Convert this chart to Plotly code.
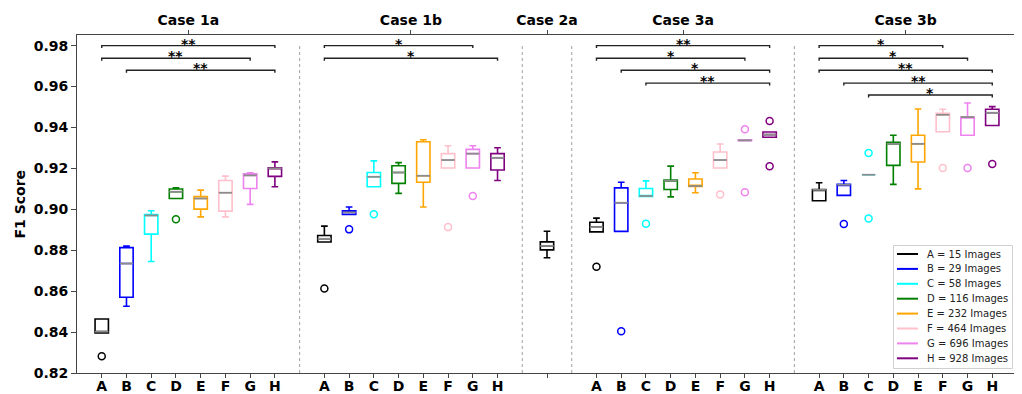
import plotly.graph_objects as go

# ---------------- data ----------------
GROUPS = ["A", "B", "C", "D", "E", "F", "G", "H"]
COLORS = ["#000000", "#0000ff", "#00ffff", "#008000", "#ffa500", "#ffc0cb", "#ee82ee", "#800080"]
LEGEND_LABELS = ["A = 15 Images", "B = 29 Images", "C = 58 Images", "D = 116 Images",
                 "E = 232 Images", "F = 464 Images", "G = 696 Images", "H = 928 Images"]
CASES = ["Case 1a", "Case 1b", "Case 2a", "Case 3a", "Case 3b"]

case1a_lower = [0.8396, 0.8526, 0.8745, 0.9053, 0.8963, 0.8963, 0.9024, 0.9110]
case1a_q1 = [0.8396, 0.8570, 0.8879, 0.9053, 0.9001, 0.8991, 0.9102, 0.9161]
case1a_median = [0.8402, 0.8735, 0.8970, 0.9086, 0.9053, 0.9081, 0.9166, 0.9200]
case1a_q3 = [0.8464, 0.8813, 0.8975, 0.9099, 0.9063, 0.9141, 0.9174, 0.9203]
case1a_upper = [0.8464, 0.8821, 0.8993, 0.9105, 0.9094, 0.9162, 0.9179, 0.9232]
case1a_outliers = [[0.8282], [], [], [0.8951], [], [], [], []]

case1b_lower = [0.8840, 0.8975, 0.9110, 0.9078, 0.9011, 0.9202, 0.9202, 0.9141]
case1b_q1 = [0.8840, 0.8975, 0.9110, 0.9127, 0.9132, 0.9202, 0.9202, 0.9192]
case1b_median = [0.8856, 0.8985, 0.9159, 0.9180, 0.9164, 0.9241, 0.9272, 0.9252]
case1b_q3 = [0.8872, 0.8993, 0.9180, 0.9213, 0.9330, 0.9272, 0.9293, 0.9272]
case1b_upper = [0.8918, 0.9011, 0.9237, 0.9228, 0.9340, 0.9311, 0.9311, 0.9301]
case1b_outliers = [[0.8613], [0.8902], [0.8976], [], [], [0.8913], [0.9065], []]

case2a_lower = [0.8763]
case2a_q1 = [0.8802]
case2a_median = [0.8821]
case2a_q3 = [0.8841]
case2a_upper = [0.8893]
case2a_outliers = [[]]

case3a_lower = [0.8890, 0.8892, 0.9063, 0.9061, 0.9081, 0.9202, 0.9335, 0.9352]
case3a_q1 = [0.8890, 0.8892, 0.9063, 0.9097, 0.9112, 0.9202, 0.9335, 0.9352]
case3a_median = [0.8913, 0.9032, 0.9065, 0.9140, 0.9114, 0.9241, 0.9337, 0.9365]
case3a_q3 = [0.8937, 0.9105, 0.9102, 0.9143, 0.9148, 0.9280, 0.9340, 0.9378]
case3a_upper = [0.8957, 0.9132, 0.9139, 0.9211, 0.9179, 0.9319, 0.9340, 0.9378]
case3a_outliers = [[0.8719], [0.8404], [0.8929], [], [], [0.9073], [0.9391, 0.9083], [0.9432, 0.9211]]

case3b_lower = [0.9042, 0.9068, 0.9169, 0.9122, 0.9100, 0.9379, 0.9362, 0.9410]
case3b_q1 = [0.9042, 0.9068, 0.9169, 0.9215, 0.9231, 0.9379, 0.9362, 0.9410]
case3b_median = [0.9095, 0.9120, 0.9169, 0.9320, 0.9320, 0.9462, 0.9451, 0.9472]
case3b_q3 = [0.9097, 0.9122, 0.9169, 0.9327, 0.9362, 0.9469, 0.9451, 0.9489]
case3b_upper = [0.9130, 0.9141, 0.9169, 0.9362, 0.9490, 0.9489, 0.9520, 0.9502]
case3b_outliers = [[], [0.8928], [0.9275, 0.8955], [], [], [0.9202], [0.9202], [0.9221]]

# significance brackets
sig_case = ["Case 1a", "Case 1a", "Case 1a",
            "Case 1b", "Case 1b",
            "Case 3a", "Case 3a", "Case 3a", "Case 3a",
            "Case 3b", "Case 3b", "Case 3b", "Case 3b", "Case 3b"]
sig_from = ["A", "A", "B", "A", "A", "A", "A", "B", "C", "A", "A", "A", "B", "C"]
sig_to = ["H", "G", "H", "G", "H", "H", "G", "H", "H", "F", "G", "H", "H", "H"]
sig_y = [0.98, 0.9738, 0.968, 0.98, 0.9738, 0.98, 0.9738, 0.968, 0.9617,
         0.98, 0.9738, 0.968, 0.9617, 0.9559]
sig_label = ["**", "**", "**", "*", "*", "**", "*", "*", "**", "*", "*", "**", "**", "*"]

# ---------------- assembly ----------------
stats = {
    "Case 1a": (case1a_lower, case1a_q1, case1a_median, case1a_q3, case1a_upper, case1a_outliers),
    "Case 1b": (case1b_lower, case1b_q1, case1b_median, case1b_q3, case1b_upper, case1b_outliers),
    "Case 2a": (case2a_lower, case2a_q1, case2a_median, case2a_q3, case2a_upper, case2a_outliers),
    "Case 3a": (case3a_lower, case3a_q1, case3a_median, case3a_q3, case3a_upper, case3a_outliers),
    "Case 3b": (case3b_lower, case3b_q1, case3b_median, case3b_q3, case3b_upper, case3b_outliers),
}

# layout positions: boxes at unit spacing, one empty slot between cases
starts = {}
pos = 0
for c in CASES:
    starts[c] = pos
    pos += len(stats[c][0]) + 1
last_pos = pos - 2
centers = [starts[c] + (len(stats[c][0]) - 1) / 2 for c in CASES]
dividers = [starts[c] - 1 for c in CASES[1:]]

BOX_W = 0.54
FONT = "DejaVu Sans"

fig = go.Figure()

tick_vals, tick_text = [], []
for gi, g in enumerate(GROUPS):
    xs, lo, q1, md, q3, up = [], [], [], [], [], []
    ox, oy = [], []
    for c in CASES:
        L, Q1, M, Q3, U, O = stats[c]
        if gi < len(L):
            x = starts[c] + gi
            xs.append(x); lo.append(L[gi]); q1.append(Q1[gi]); md.append(M[gi])
            q3.append(Q3[gi]); up.append(U[gi])
            for v in O[gi]:
                ox.append(x); oy.append(v)
    fig.add_trace(go.Box(
        x=xs, q1=q1, median=md, q3=q3, lowerfence=lo, upperfence=up,
        width=BOX_W, whiskerwidth=0.5, line=dict(color=COLORS[gi], width=1.6),
        fillcolor="rgba(255,255,255,0)", showlegend=False, hoverinfo="skip", name=g))
    # grey median lines
    mx, my = [], []
    for x, m in zip(xs, md):
        mx += [x - BOX_W / 2, x + BOX_W / 2, None]
        my += [m, m, None]
    fig.add_trace(go.Scatter(x=mx, y=my, mode="lines", line=dict(color="#8c8c8c", width=1.8),
                             showlegend=False, hoverinfo="skip"))
    if ox:
        fig.add_trace(go.Scatter(x=ox, y=oy, mode="markers",
                                 marker=dict(symbol="circle-open", size=7, color=COLORS[gi],
                                             line=dict(width=1.5, color=COLORS[gi])),
                                 showlegend=False, hoverinfo="skip"))

for c in CASES:
    n = len(stats[c][0])
    for gi in range(n):
        tick_vals.append(starts[c] + gi)
        tick_text.append(GROUPS[gi] if n > 1 else "")

# significance brackets
TICK_D = 0.0012
bx, by = [], []
for c, a, b, yv, lab in zip(sig_case, sig_from, sig_to, sig_y, sig_label):
    x0 = starts[c] + GROUPS.index(a)
    x1 = starts[c] + GROUPS.index(b)
    bx += [x0, x0, x1, x1, None]
    by += [yv - TICK_D, yv, yv, yv - TICK_D, None]
    fig.add_annotation(x=(x0 + x1) / 2, y=yv, text=lab, showarrow=False,
                       xanchor="center", yanchor="bottom", yshift=-8,
                       font=dict(family=FONT, size=14, color="black", weight="bold"))
fig.add_trace(go.Scatter(x=bx, y=by, mode="lines", line=dict(color="#222222", width=1.4),
                         showlegend=False, hoverinfo="skip"))

# dummy trace for the top axis
fig.add_trace(go.Scatter(x=centers, y=[None] * len(centers), xaxis="x2", mode="markers",
                         showlegend=False, hoverinfo="skip"))

# dividers
for d in dividers:
    fig.add_shape(type="line", x0=d, x1=d, y0=0.82, y1=0.98, xref="x", yref="y",
                  line=dict(color="#a0a0a0", width=1, dash="dot"))

# ---------------- geometry (page body has an 8px margin) ----------------
OFF = 8
FIG_W, FIG_H = 1022 - OFF, 394 - OFF
L_PX, T_PX, W_PX, H_PX = 77 - OFF, 35 - OFF, 940, 338


def px_x(px):  # page pixel -> paper x
    return (px - OFF - L_PX) / W_PX


def px_y(py):  # page pixel -> paper y
    return (T_PX + H_PX - (py - OFF)) / H_PX


# ---------------- manual legend ----------------
fig.add_shape(type="rect", xref="paper", yref="paper",
              x0=px_x(893.5), x1=px_x(1012.5), y0=px_y(368.5), y1=px_y(245.5),
              line=dict(color="#d0d0d0", width=1), fillcolor="rgba(255,255,255,0.85)")
for i, (lab, col) in enumerate(zip(LEGEND_LABELS, COLORS)):
    yy = px_y(254 + 14.9 * i)
    fig.add_shape(type="line", xref="paper", yref="paper", x0=px_x(897), x1=px_x(918),
                  y0=yy, y1=yy, line=dict(color=col, width=2))
    fig.add_annotation(xref="paper", yref="paper", x=px_x(925), y=yy, text=lab,
                       showarrow=False, xanchor="left", yanchor="middle",
                       font=dict(family=FONT, size=10, color="#222222"))

# y axis title
fig.add_annotation(xref="paper", yref="paper", x=px_x(19.5), y=0.5, text="F1 Score",
                   textangle=-90, showarrow=False, xanchor="center", yanchor="middle",
                   font=dict(family=FONT, size=14, color="black", weight="bold"))

fig.update_layout(
    width=FIG_W, height=FIG_H,
    margin=dict(l=L_PX, r=FIG_W - L_PX - W_PX, t=T_PX, b=FIG_H - T_PX - H_PX, autoexpand=False),
    paper_bgcolor="white", plot_bgcolor="white",
    boxmode="overlay", showlegend=False,
    xaxis=dict(range=[-1, last_pos + 1], tickvals=tick_vals, ticktext=tick_text, automargin=False,
               ticks="outside", ticklen=4, tickcolor="#444", showgrid=False, zeroline=False,
               showline=True, linecolor="#444", linewidth=1, mirror=True, ticklabelstandoff=-4,
               tickfont=dict(family=FONT, size=14, color="black", weight="bold")),
    xaxis2=dict(range=[-1, last_pos + 1], overlaying="x", side="top", tickvals=centers,
                ticktext=CASES, ticks="outside", ticklen=4, tickcolor="#444", automargin=False,
                showgrid=False, zeroline=False, showline=False, ticklabelstandoff=-1,
                tickfont=dict(family=FONT, size=14, color="black", weight="bold")),
    yaxis=dict(range=[0.82, 0.9852], tickvals=[0.82, 0.84, 0.86, 0.88, 0.90, 0.92, 0.94, 0.96, 0.98],
               tickformat=".2f", ticks="outside", ticklen=5, tickcolor="#444", automargin=False,
               showgrid=False, zeroline=False, showline=True, linecolor="#444", linewidth=1,
               mirror=True, tickfont=dict(family=FONT, size=14, color="black", weight="bold")),
)

fig.write_html("out.html")
